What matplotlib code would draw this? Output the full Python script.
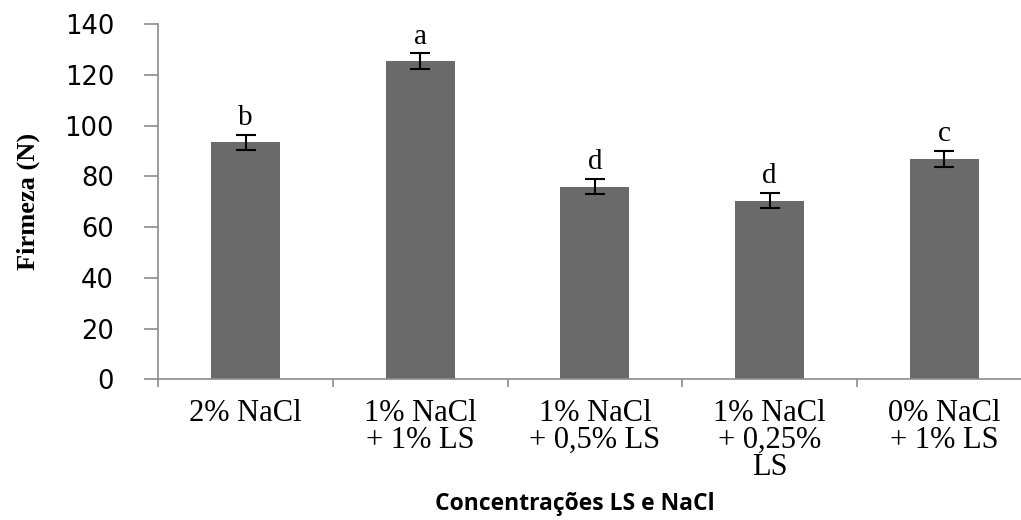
import numpy as np
import matplotlib
matplotlib.use("Agg")
import matplotlib.pyplot as plt

# firmness by salt / LS treatment
categories = ["2% NaCl", "1% NaCl\n+ 1% LS", "1% NaCl\n+ 0,5% LS",
              "1% NaCl\n+ 0,25%\nLS", "0% NaCl\n+ 1% LS"]
firmeza = [93.5, 125.5, 76.0, 70.5, 87.0]
erro = [3.0, 3.0, 3.0, 3.0, 3.1]
letras = ["b", "a", "d", "d", "c"]
yticks = [0, 20, 40, 60, 80, 100, 120, 140]

bar_color = "#6a6a6a"
axis_color = "#8c8c8c"

fig = plt.figure(figsize=(10.21, 5.2), dpi=100)
ax = fig.add_axes([0.1552, 0.2706, 0.855, 0.6827])

x = np.arange(len(categories))
ax.bar(x, firmeza, width=0.395, color=bar_color, zorder=2)
ax.errorbar(x, firmeza, yerr=erro, fmt="none", ecolor="black",
            elinewidth=1.5, capsize=7.5, capthick=1.5, zorder=3)

for xi, v, e, l in zip(x, firmeza, erro, letras):
    ax.annotate(l, (xi, v + e), xytext=(0, 7), textcoords="offset points",
                ha="center", va="baseline", fontsize=21,
                family="Liberation Serif")

ax.set_xlim(-0.5, len(categories) - 0.5)
ax.set_ylim(0, 140)
ax.set_yticks(yticks)
ax.set_yticklabels([str(t) for t in yticks], fontsize=18.5, family="DejaVu Sans")

ax.set_xticks(x)
ax.set_xticklabels(categories, fontsize=22, family="Liberation Serif",
                   linespacing=0.92)
ax.set_xticks(np.arange(-0.5, len(categories)), minor=True)
ax.tick_params(axis="x", which="major", length=0, pad=14)
ax.tick_params(axis="x", which="minor", length=6, width=1.2, color=axis_color,
               direction="out")
ax.tick_params(axis="y", length=10, width=1.2, color=axis_color, pad=22)
for lbl in ax.get_xticklabels():
    lbl.set_verticalalignment("top")

for s in ["top", "right"]:
    ax.spines[s].set_visible(False)
for s in ["left", "bottom"]:
    ax.spines[s].set_color(axis_color)
    ax.spines[s].set_linewidth(1.2)

fig.text(575 / 1021, 10 / 520, "Concentrações LS e NaCl", ha="center",
         va="baseline", fontsize=16.5, fontweight="bold", family="Open Sans")
fig.text(28 / 1021, 319 / 520, "Firmeza (N)", ha="center", va="center",
         rotation=90, fontsize=19, fontweight="bold", family="Liberation Serif")

fig.savefig("out.png", dpi=100)
